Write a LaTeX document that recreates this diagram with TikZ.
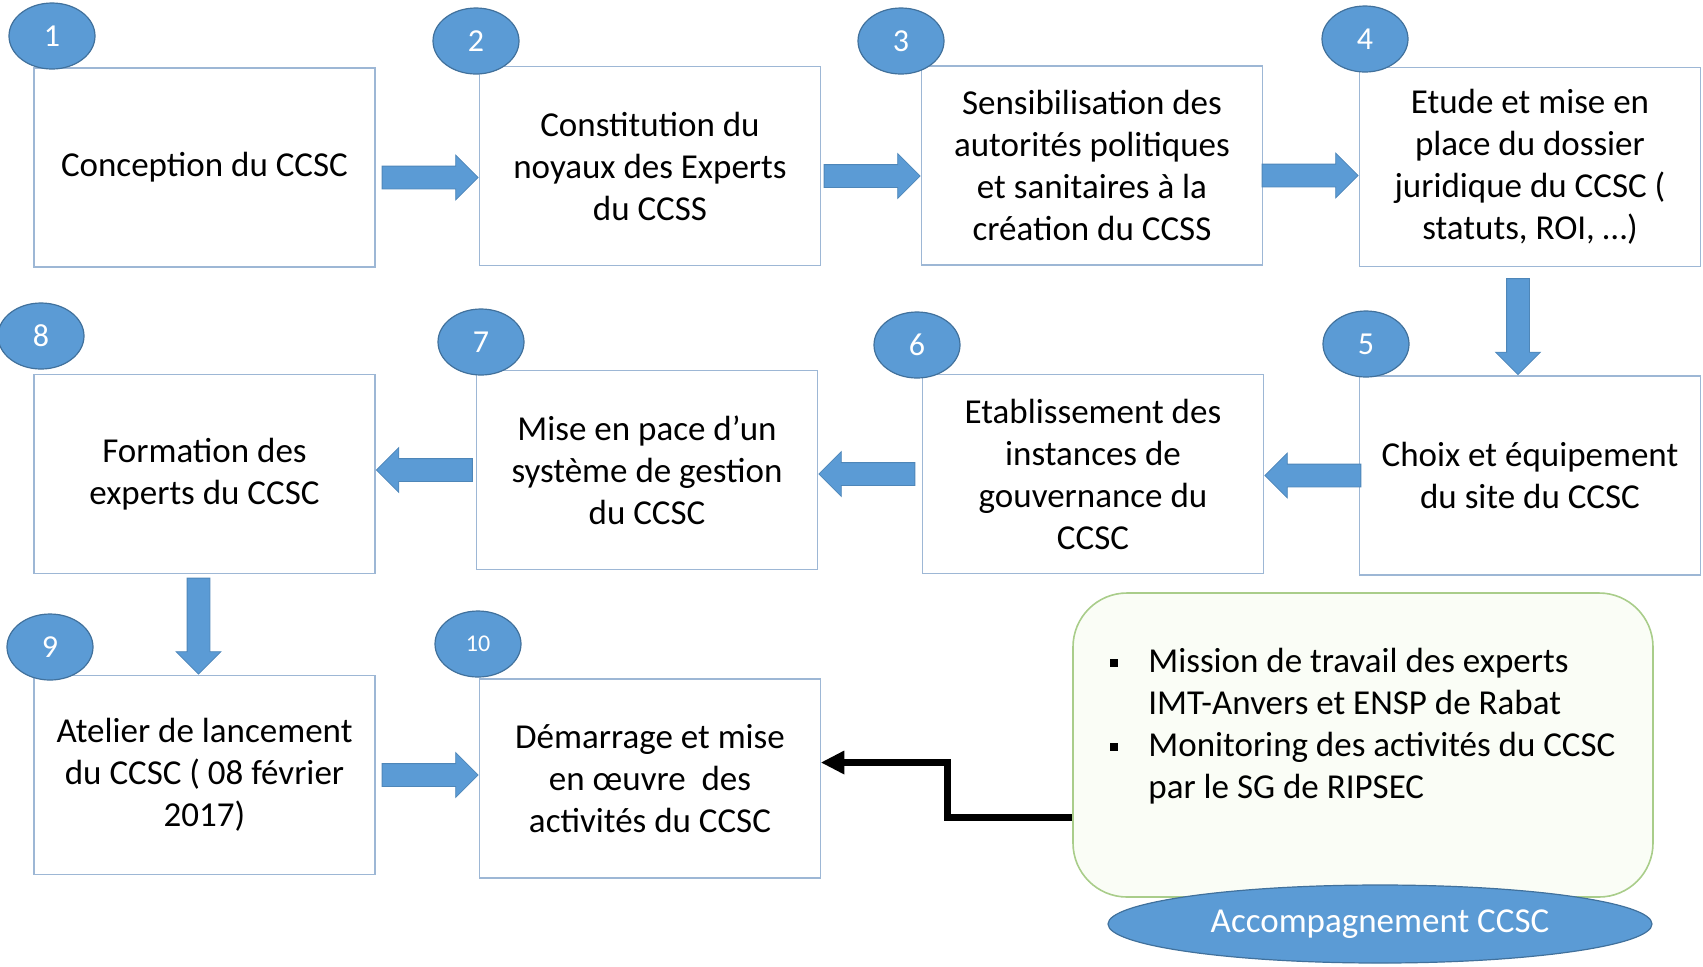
\documentclass[tikz,border=0pt]{standalone}
\usepackage{fontspec}
\setmainfont{Carlito}
\usetikzlibrary{arrows.meta,shapes.geometric,shapes.arrows}
\definecolor{stepBlue}{HTML}{5B9BD5}
\definecolor{stepBlueDark}{HTML}{41719C}
\definecolor{boxLine}{HTML}{9DB7D5}
\definecolor{accLine}{HTML}{A9CD8A}
\definecolor{accFill}{HTML}{FAFDF6}
\newcommand{\pxUnit}[0]{0.5pt}

\begin{document}
\begin{tikzpicture}[x=\pxUnit, y=-\pxUnit]
  \tikzset{every node/.style={font=\fontsize{17.5}{21}\selectfont},
    stepBox/.style={draw=boxLine, line width=0.8pt, fill=white, align=center,
      minimum width=170.5pt, minimum height=99.5pt, inner sep=0pt},
    stepNum/.style={ellipse, draw=stepBlueDark, line width=0.6pt, fill=stepBlue,
      text=white, minimum width=43pt, minimum height=33pt, inner sep=0pt,
      font=\fontsize{16}{16}\selectfont},
    blueArrow/.style={single arrow, fill=stepBlue, draw=stepBlueDark!50!stepBlue,
      line width=0.4pt, inner xsep=0pt, inner ysep=5.5pt, minimum height=48pt,
      single arrow head extend=5.5pt, single arrow head indent=0pt,
      sloped, allow upside down, pos=1, anchor=tip},
    blackArrow/.style={black, line width=3.5pt,
      -{Triangle[length=11.5pt, width=12pt, line width=0pt]}}}
  \useasboundingbox (0,0) rectangle (1703,966);

  % first row
  \node[stepBox] (b1) at (204.5,167.5) {Conception du CCSC};
  \node[stepBox] (b2) at (650,166) {Constitution du\\noyaux des Experts\\du CCSS};
  \node[stepBox] (b3) at (1092,165.5) {Sensibilisation des\\autorités politiques\\et sanitaires à la\\création du CCSS};
  \node[stepBox] (b4) at (1530,167) {Etude et mise en\\place du dossier\\juridique du CCSC (\\statuts, ROI, …)};
  % second row
  \node[stepBox] (b5) at (1530,475.5) {Choix et équipement\\du site du CCSC};
  \node[stepBox] (b6) at (1093,474) {Etablissement des\\instances de\\gouvernance du\\CCSC};
  \node[stepBox] (b7) at (647,470) {Mise en pace d’un\\système de gestion\\du CCSC};
  \node[stepBox] (b8) at (204.5,474) {Formation des\\experts du CCSC};
  % third row
  \node[stepBox] (b9) at (204.5,775) {Atelier de lancement\\du CCSC ( 08 février\\2017)};
  \node[stepBox] (b10) at (650,778.5) {Démarrage et mise\\en œuvre~~des\\activités du CCSC};

  % numbers
  \node[stepNum] (n1) at (52,36) {1};
  \node[stepNum] (n2) at (476,41) {2};
  \node[stepNum] (n3) at (901,41) {3};
  \node[stepNum] (n4) at (1365,39) {4};
  \node[stepNum] (n5) at (1366,344) {5};
  \node[stepNum] (n6) at (917,345) {6};
  \node[stepNum] (n7) at (481,342) {7};
  \node[stepNum] (n8) at (41,336) {8};
  \node[stepNum] (n9) at (50,647) {9};
  \node[stepNum, font=\fontsize{12}{12}\selectfont] (n10) at (478,644) {10};

  % support
  \node[draw=accLine, line width=0.8pt, fill=accFill, rounded corners=27pt,
    minimum width=290pt, minimum height=152pt] (accomp) at (1363,745) {};
  \node[anchor=north west, inner sep=0pt] (accompText) at (1110,643) {%
    \begin{tabular}{@{}l@{\hspace{15pt}}l@{}}
      \rule[3pt]{4pt}{4pt} & Mission de travail des experts\\
                           & IMT-Anvers et ENSP de Rabat\\
      \rule[3pt]{4pt}{4pt} & Monitoring des activités du CCSC\\
                           & par le SG de RIPSEC
    \end{tabular}};
  \node[ellipse, draw=stepBlueDark, line width=0.6pt, fill=stepBlue, text=white,
    minimum width=272pt, minimum height=39pt, inner sep=0pt] (accompTag) at (1380,924) {Accompagnement CCSC};

  % arrows
  \path ([yshift=-5pt]b1.east) -- ([yshift=-5pt]b1.east -| b2.west) node[blueArrow] (a12) {};
  \path ([yshift=-5pt]b2.east) -- ([yshift=-5pt]b2.east -| b3.west) node[blueArrow] (a23) {};
  \path ([yshift=-5pt]b3.east) -- ([yshift=-5pt]b3.east -| b4.west) node[blueArrow] (a34) {};
  \path ([xshift=-6pt]b4.south) -- ([xshift=-6pt]b4.south |- b5.north) node[blueArrow] (a45) {};
  \path (b5.west) -- (b5.west -| b6.east) node[blueArrow] (a56) {};
  \path (b6.west) -- (b6.west -| b7.east) node[blueArrow] (a67) {};
  \path (b7.west) -- (b7.west -| b8.east) node[blueArrow] (a78) {};
  \path ([xshift=-3pt]b8.south) -- ([xshift=-3pt]b8.south |- b9.north) node[blueArrow] (a89) {};
  \path (b9.east) -- (b9.east -| b10.west) node[blueArrow] (a910) {};
  \draw[blackArrow] ([yshift=-36pt]accomp.west) -- ++(-125,0) |- ([yshift=8pt]b10.east);
\end{tikzpicture}
\end{document}
